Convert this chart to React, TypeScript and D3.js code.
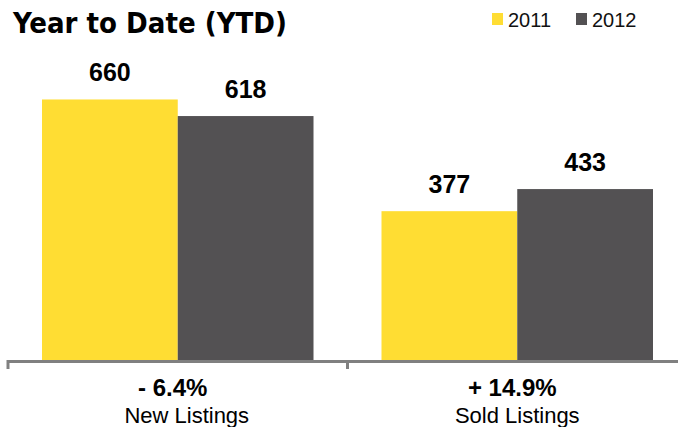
import React from "react";
import * as d3 from "d3";

const categories = ["New Listings", "Sold Listings"];
const changes = ["- 6.4%", "+ 14.9%"];
const seriesNames = ["2011", "2012"];
const values2011 = [660, 377];
const values2012 = [618, 433];

const W = 678;
const H = 427;
const COLORS = ["#FFDD33", "#535153"];
const AXIS = "#808080";
const FONT = "'Liberation Sans', Arial, Helvetica, sans-serif";

export default function App() {
  const x0 = d3.scaleBand<string>().domain(categories).range([8, 687]).padding(0);
  const x1 = d3
    .scaleBand<string>()
    .domain(seriesNames)
    .range([34, x0.bandwidth() - 34])
    .padding(0);
  const y = d3.scaleLinear().domain([0, 760]).range([360, 60]);
  const series = [values2011, values2012];
  const baseY = y(0);
  const nameOffsets = [9, 0];

  return (
    <svg
      width={W}
      height={H}
      style={{ position: "absolute", left: 0, top: 0, background: "#fff" }}
    >
      <text
        x={13}
        y={33}
        fontFamily="'DejaVu Sans Condensed', 'DejaVu Sans', sans-serif"
        fontStretch="condensed"
        fontWeight="bold"
        fontSize={29}
        fill="#000"
        textLength={274}
        lengthAdjust="spacingAndGlyphs"
      >
        Year to Date (YTD)
      </text>

      {/* legend */}
      {seriesNames.map((s, i) => {
        const lx = 492 + i * 84;
        return (
          <g key={s}>
            <rect x={lx} y={13} width={11} height={12} fill={COLORS[i]} />
            <text x={lx + 16} y={27} fontFamily={FONT} fontSize={20} fill="#111">
              {s}
            </text>
          </g>
        );
      })}

      {/* bars */}
      {categories.map((c, ci) => (
        <g key={c} transform={`translate(${x0(c)},0)`}>
          {seriesNames.map((s, si) => {
            const v = series[si][ci];
            const bx = x1(s)!;
            const bw = x1.bandwidth();
            return (
              <g key={s}>
                <rect x={bx} y={y(v)} width={bw} height={baseY - y(v)} fill={COLORS[si]} />
                <text
                  x={bx + bw / 2}
                  y={y(v) - 18}
                  textAnchor="middle"
                  fontFamily={FONT}
                  fontWeight="bold"
                  fontSize={25}
                  fill="#000"
                >
                  {d3.format("d")(v)}
                </text>
              </g>
            );
          })}
        </g>
      ))}

      {/* axis */}
      <line x1={8} x2={678} y1={361.5} y2={361.5} stroke={AXIS} strokeWidth={3} />
      {categories.map((c) => (
        <line
          key={c}
          x1={x0(c)!}
          x2={x0(c)!}
          y1={360}
          y2={369}
          stroke={AXIS}
          strokeWidth={3}
        />
      ))}

      {categories.map((c, ci) => {
        const cx = x0(c)! + x0.bandwidth() / 2;
        return (
          <g key={c}>
            <text
              x={cx - 5}
              y={396}
              textAnchor="middle"
              fontFamily={FONT}
              fontWeight="bold"
              fontSize={24}
              fill="#000"
            >
              {changes[ci]}
            </text>
            <text
              x={cx + nameOffsets[ci]}
              y={423}
              textAnchor="middle"
              fontFamily={FONT}
              fontSize={22}
              fill="#000"
            >
              {c}
            </text>
          </g>
        );
      })}
    </svg>
  );
}
